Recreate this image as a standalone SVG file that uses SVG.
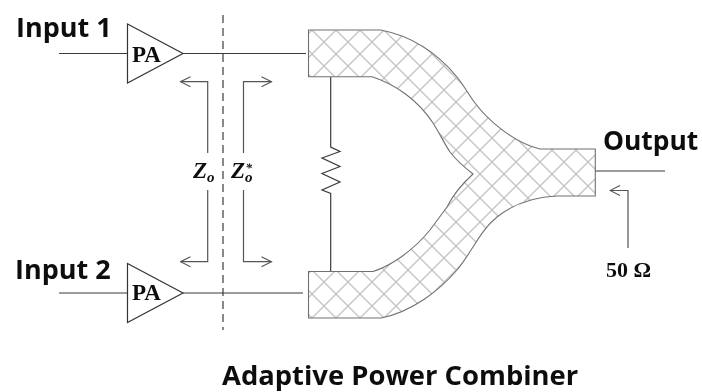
<svg xmlns="http://www.w3.org/2000/svg" width="702" height="392" viewBox="0 0 702 392">
<style>
.ln{fill:none;stroke:#3a3a3a;stroke-width:1.2}
.ar{fill:none;stroke:#555;stroke-width:1.2}
.pa{fill:#fff;stroke:#333;stroke-width:1.2}
.lb{font-family:"Open Sans","Noto Sans","Liberation Sans",sans-serif;font-weight:700;font-size:27px;fill:#111}
.sf{font-family:"Liberation Serif",serif;font-weight:700;fill:#111}
.mi{font-family:"Liberation Serif",serif;font-weight:700;font-style:italic;fill:#111}
text{filter:url(#soft)}
</style>
<defs>
<filter id="soft" x="-5%" y="-10%" width="110%" height="120%"><feGaussianBlur stdDeviation="0.4"/></filter>
<pattern id="hatch" patternUnits="userSpaceOnUse" width="24" height="24" x="312" y="30">
<path d="M0 0L24 24M24 0L0 24" stroke="#c2c2c2" stroke-width="1.3" fill="none"/>
</pattern>
<marker id="chev" viewBox="0 0 14 12" refX="13" refY="6" markerWidth="14" markerHeight="12" markerUnits="userSpaceOnUse" orient="auto">
<path d="M3 1L13 6L3 11" fill="none" stroke="#555" stroke-width="1.1"/>
</marker>
</defs>
<g id="connectors">
<path class="ln" d="M59 53.500H128M183 53.500H306"/>
<path class="ln" d="M59 293H128M183 293H303"/>
<path class="ln" d="M595 171H665"/>
<path class="ln" stroke-dasharray="8 5" d="M223 15V330"/>
<path class="ln" d="M330.700 77V147L340 151.500L322 158L340 166.500L322 173.500L340 182L322 190L330.700 193.500V271"/>
<path class="ar" marker-end="url(#chev)" d="M207.700 153V81.700H180.500"/>
<path class="ar" marker-end="url(#chev)" d="M243.500 153V81.700H271.500"/>
<path class="ar" marker-end="url(#chev)" d="M207.700 190V261.700H180.500"/>
<path class="ar" marker-end="url(#chev)" d="M243.500 190V261.700H271.500"/>
<path class="ar" marker-end="url(#chev)" d="M628 248V190.500H610"/>
</g>
<g id="combiner">
<path fill="url(#hatch)" stroke="#707070" stroke-width="1.1" d="M308.500 30H380.700C412 36 438 54 457 77C464 85.500 468 94 475 103C487 119 512 142 540 149H595.300V196H557C533 197 512 205 497 217C486 226 480 236 473 247C467 256 463 263 457 270C440 290 412 312 381 318H308.500V271.500H373C390 266 412 252 430 230C436 222 441 215 447 207C453 195 462 184 473 174C464 167 456 160 450 152C444 143 440 134 433 123C418 100 395 84 372 76.700H308.500Z"/>
</g>
<g id="pa1">
<path class="pa" d="M127.500 24L183 53.500L127.500 83Z"/>
<text class="sf" x="132" y="62" font-size="23">PA</text>
</g>
<g id="pa2">
<path class="pa" d="M127.500 263.500L183 293L127.500 322.500Z"/>
<text class="sf" x="132" y="300" font-size="23">PA</text>
</g>
<g id="labels">
<text class="lb" x="16" y="37">Input 1</text>
<text class="lb" x="15" y="279">Input 2</text>
<text class="lb" x="603" y="150" style="font-size:26.400px">Output</text>
<text class="lb" x="222" y="385" style="font-size:27.400px">Adaptive Power Combiner</text>
<text class="sf" x="606" y="277" font-size="22">50 Ω</text>
<text class="mi" x="193" y="178" font-size="23">Z<tspan dy="4" font-size="15">o</tspan></text>
<text class="mi" x="231" y="178" font-size="23">Z<tspan dy="4" font-size="15">o</tspan><tspan dx="-7" dy="-10" font-size="13">*</tspan></text>
</g>
</svg>
